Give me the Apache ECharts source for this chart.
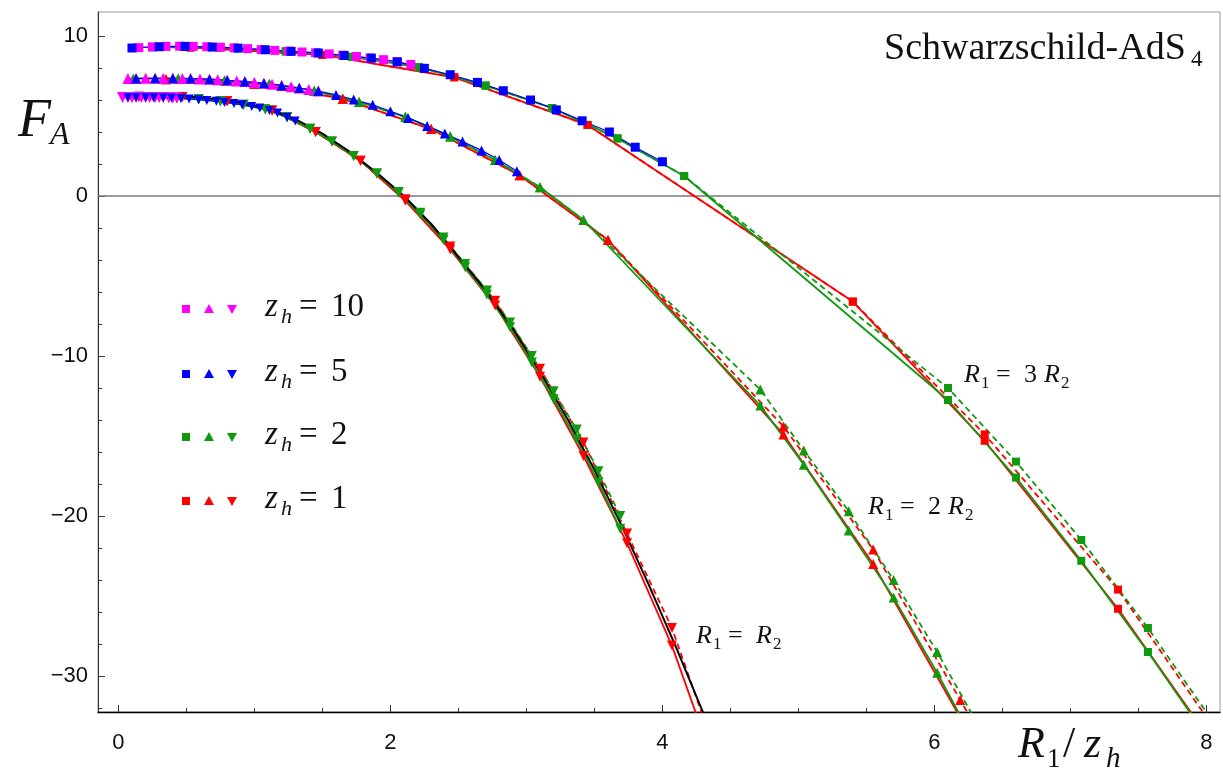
<!DOCTYPE html>
<html>
<head>
<meta charset="utf-8">
<title>F_A  Schwarzschild-AdS4</title>
<script src="https://cdn.jsdelivr.net/npm/echarts@6/dist/echarts.min.js"></script>
<style>
  html, body { margin: 0; padding: 0; background: #fff; }
  #main { width: 1223px; height: 768px; }
</style>
</head>
<body>
<div id="main"></div>
<script type="text/javascript">
// axis ticks
var xTicks = [0, 2, 4, 6, 8];
var xMinor = [0.5, 1, 1.5, 2.5, 3, 3.5, 4.5, 5, 5.5, 6.5, 7, 7.5];
var yTicks = [-30, -20, -10, 0, 10];
var yMinor = [-32, -28, -26, -24, -22, -18, -16, -14, -12, -8, -6, -4, -2, 2, 4, 6, 8];

// ---- R1 = R2 (down triangles) ----
var r1MagX = [0.03, 0.07, 0.10, 0.13, 0.17, 0.20, 0.23, 0.27, 0.30, 0.33, 0.37, 0.40, 0.43];
var r1MagY = [6.15, 6.15, 6.16, 6.16, 6.16, 6.16, 6.16, 6.16, 6.15, 6.15, 6.14, 6.13, 6.12];
var r1BlueX = [0.07, 0.13, 0.20, 0.26, 0.33, 0.39, 0.46, 0.52, 0.59, 0.65, 0.72, 0.78, 0.85, 0.91, 0.98, 1.04, 1.11, 1.17, 1.24, 1.30];
var r1BlueY = [6.15, 6.15, 6.15, 6.15, 6.14, 6.13, 6.10, 6.07, 6.02, 5.97, 5.92, 5.85, 5.78, 5.70, 5.60, 5.50, 5.35, 5.18, 4.92, 4.68];
var r1GreenX = [0.10, 0.26, 0.43, 0.59, 0.75, 0.92, 1.08, 1.24, 1.41, 1.57, 1.73, 1.90, 2.06, 2.22, 2.39, 2.55, 2.71, 2.88, 3.04, 3.20, 3.37, 3.53, 3.69];
var r1GreenSolid = [6.15, 6.15, 6.12, 6.05, 5.92, 5.70, 5.42, 4.92, 4.20, 3.40, 2.50, 1.40, 0.20, -1.15, -2.75, -4.45, -6.15, -8.20, -10.4, -12.7, -15.2, -17.9, -20.8];
var r1GreenDashed = [6.15, 6.15, 6.12, 6.05, 5.92, 5.70, 5.42, 4.92, 4.20, 3.40, 2.50, 1.40, 0.25, -1.05, -2.60, -4.25, -5.90, -7.90, -10.0, -12.2, -14.6, -17.2, -20.0];
var r1RedX = [0.15, 0.47, 0.80, 1.13, 1.45, 1.78, 2.11, 2.44, 2.77, 3.10, 3.42, 3.74, 4.07, 4.40];
var r1RedSolid = [6.20, 6.18, 5.92, 5.35, 4.00, 2.20, -0.30, -3.35, -6.85, -11.3, -16.25, -21.7, -28.1, -36.0];
var r1RedDashed = [6.20, 6.18, 5.92, 5.35, 4.00, 2.20, -0.20, -3.15, -6.55, -10.8, -15.4, -21.1, -27.0, -35.0];
var r1BlackX = [0.1, 0.3, 0.5, 0.7, 0.9, 1.1, 1.3, 1.5, 1.7, 1.9, 2.1, 2.3, 2.5, 2.7, 2.9, 3.1, 3.3, 3.5, 3.7, 3.9, 4.1, 4.3];
var r1BlackY = [6.30, 6.30, 6.23, 6.08, 5.85, 5.50, 4.80, 3.90, 2.77, 1.45, 0.0, -1.75, -3.80, -5.90, -8.30, -11.0, -13.9, -17.1, -20.6, -24.3, -28.2, -32.3];

// ---- R1 = 2 R2 (up triangles) ----
var r2MagX = [0.07, 0.13, 0.20, 0.27, 0.33, 0.40, 0.47, 0.53, 0.60, 0.67, 0.73, 0.80, 0.87, 0.93, 1.00, 1.07, 1.13, 1.20, 1.27, 1.33, 1.40, 1.47];
var r2MagY = [7.35, 7.35, 7.36, 7.36, 7.36, 7.36, 7.35, 7.34, 7.32, 7.30, 7.27, 7.23, 7.19, 7.15, 7.10, 7.04, 6.98, 6.91, 6.83, 6.75, 6.66, 6.56];
var r2BlueX = [0.13, 0.27, 0.40, 0.53, 0.67, 0.80, 0.93, 1.07, 1.20, 1.33, 1.47, 1.60, 1.73, 1.87, 2.00, 2.13, 2.27, 2.40, 2.53, 2.67, 2.80, 2.93];
var r2BlueY = [7.35, 7.36, 7.36, 7.34, 7.30, 7.23, 7.15, 7.04, 6.91, 6.75, 6.56, 6.32, 6.03, 5.70, 5.30, 4.88, 4.38, 3.90, 3.40, 2.85, 2.25, 1.55];
var r2GreenX = [0.11, 0.44, 0.78, 1.11, 1.44, 1.77, 2.11, 2.44, 2.77, 3.10, 3.42, 4.72, 5.04, 5.37, 5.70, 6.02, 6.35];
var r2GreenSolid = [7.33, 7.34, 7.22, 7.00, 6.58, 5.88, 4.95, 3.72, 2.25, 0.55, -1.5, -13.1, -16.8, -20.9, -25.1, -29.8, -35.0];
var r2GreenDashed = [7.33, 7.34, 7.22, 7.00, 6.58, 5.88, 4.95, 3.72, 2.25, 0.55, -1.5, -12.1, -15.9, -19.7, -24.0, -28.5, -33.5];
var r2RedX = [0.35, 1.00, 1.65, 2.30, 2.95, 3.60, 4.89, 5.55, 6.19, 6.84];
var r2RedSolid = [7.30, 7.02, 6.08, 4.18, 1.30, -2.75, -14.9, -23.0, -32.6, -43.0];
var r2RedDashed = [7.30, 7.02, 6.08, 4.18, 1.30, -2.75, -14.4, -22.1, -31.5, -41.0];

// ---- R1 = 3 R2 (squares) ----
var r3MagX = [0.15, 0.25, 0.35, 0.45, 0.55, 0.65, 0.75, 0.85, 0.95, 1.05, 1.15, 1.25, 1.35, 1.45, 1.55, 1.65, 1.75, 1.85, 1.95, 2.05, 2.15];
var r3MagY = [9.27, 9.32, 9.35, 9.36, 9.35, 9.33, 9.30, 9.26, 9.21, 9.15, 9.10, 9.05, 9.00, 8.95, 8.88, 8.80, 8.72, 8.62, 8.52, 8.40, 8.22];
var r3BlueX = [0.10, 0.30, 0.49, 0.69, 0.88, 1.08, 1.27, 1.47, 1.66, 1.86, 2.05, 2.25, 2.44, 2.64, 2.83, 3.03, 3.22, 3.41, 3.61, 3.80, 4.00];
var r3BlueY = [9.25, 9.33, 9.35, 9.31, 9.24, 9.14, 9.04, 8.94, 8.78, 8.62, 8.38, 7.98, 7.58, 7.10, 6.58, 6.00, 5.38, 4.70, 4.00, 3.05, 2.14];
var r3GreenX = [0.25, 0.74, 1.23, 1.72, 2.21, 2.70, 3.19, 3.67, 4.16, 6.10, 6.60, 7.08, 7.57, 8.06];
var r3GreenSolid = [9.30, 9.28, 9.04, 8.70, 8.05, 6.90, 5.50, 3.60, 1.25, -12.75, -17.6, -22.8, -28.5, -34.5];
var r3GreenDashed = [9.30, 9.28, 9.04, 8.70, 8.05, 6.90, 5.50, 3.60, 1.25, -12.0, -16.6, -21.5, -27.0, -33.0];
var r3RedX = [0.53, 1.50, 2.47, 3.45, 5.40, 6.37, 7.35, 8.32];
var r3RedSolid = [9.28, 8.82, 7.42, 4.44, -6.6, -15.3, -25.8, -37.5];
var r3RedDashed = [9.28, 8.82, 7.42, 4.44, -6.6, -14.9, -24.6, -36.5];

var MAG = '#ff00ff', BLUE = '#0000ff', GREEN = '#0f9a0f', RED = '#ff0000';
var XMIN = -0.15, XMAX = 8.1, YMIN = -32.25, YMAX = 11.5;

function pairs(xs, ys) {
    return xs.map(function (x, i) { return [x, ys[i]]; });
}

// one line series with markers
function ser(xs, ys, color, shape, dashed, size, width) {
    var rot = 0, sym = 'rect';
    if (shape === 'up') sym = 'triangle';
    if (shape === 'down') { sym = 'triangle'; rot = 180; }
    if (shape === 'none') sym = 'none';
    return {
        type: 'line',
        data: pairs(xs, ys),
        symbol: sym,
        symbolSize: size || (sym === 'rect' ? 8 : 10),
        symbolRotate: rot,
        showSymbol: sym !== 'none',
        itemStyle: { color: color },
        lineStyle: { color: color, width: width || 1.8, type: dashed ? [6, 4] : 'solid' },
        emphasis: { disabled: true },
        clip: true,
        animation: false
    };
}

var series = [
    // zero line
    {
        type: 'line', data: [[XMIN, 0], [XMAX, 0]], symbol: 'none',
        lineStyle: { color: '#7a7a7a', width: 1.4 }, animation: false, silent: true
    },
    ser(r3RedX, r3RedDashed, RED, 'sq', true),
    ser(r3RedX, r3RedSolid, RED, 'sq', false),
    ser(r2RedX, r2RedDashed, RED, 'up', true),
    ser(r2RedX, r2RedSolid, RED, 'up', false),
    ser(r1RedX, r1RedDashed, RED, 'down', true),
    ser(r1RedX, r1RedSolid, RED, 'down', false),
    ser(r3GreenX, r3GreenDashed, GREEN, 'sq', true),
    ser(r3GreenX, r3GreenSolid, GREEN, 'sq', false),
    ser(r2GreenX, r2GreenDashed, GREEN, 'up', true),
    ser(r2GreenX, r2GreenSolid, GREEN, 'up', false),
    ser(r1GreenX, r1GreenDashed, GREEN, 'down', true),
    ser(r1GreenX, r1GreenSolid, GREEN, 'down', false),
    ser(r3MagX, r3MagY, MAG, 'sq', false, 9, 1.2),
    ser(r2MagX, r2MagY, MAG, 'up', false, 11, 1.2),
    ser(r1MagX, r1MagY, MAG, 'down', false, 11, 1.2),
    ser(r3BlueX, r3BlueY, BLUE, 'sq', false, 9, 1.2),
    ser(r2BlueX, r2BlueY, BLUE, 'up', false, 10, 1.2),
    ser(r1BlueX, r1BlueY, BLUE, 'down', false, 9, 1.2),
    ser(r1BlackX, r1BlackY, '#000', 'none', false, 0, 2)
];

// text helper, base is roughly the glyph baseline
function txt(x, base, s, size, italic, family) {
    return {
        type: 'text', x: x, y: base - 0.33 * size, silent: true,
        style: {
            text: s, fontSize: size, fontStyle: italic ? 'italic' : 'normal',
            fontFamily: family || 'Liberation Serif', fill: '#111',
            verticalAlign: 'middle', textAlign: 'left'
        }
    };
}

var graphics = [];
// F_A
graphics.push(txt(18, 140, 'F', 54, true));
graphics.push(txt(50, 146, 'A', 32, true));
// R1/zh
graphics.push(txt(1018, 760, 'R', 44, true));
graphics.push(txt(1047, 769, '1', 27, false));
graphics.push(txt(1063, 760, '/', 44, false));
graphics.push(txt(1084, 760, 'z', 44, true));
graphics.push(txt(1106, 769, 'h', 29, true));
// Schwarzschild-AdS4
graphics.push(txt(884, 62, 'Schwarzschild-AdS', 38, false));
graphics.push(txt(1191, 68, '4', 23, false));

// R1 = n R2 labels
function rlabel(x, base, n) {
    var out = [];
    out.push(txt(x, base, 'R', 26, true));
    out.push(txt(x + 17, base + 5, '1', 17, false));
    out.push(txt(x + 32, base, '=', 26, false));
    var x2 = x + 60;
    if (n) { out.push(txt(x2, base, n, 26, false)); x2 += 20; }
    out.push(txt(x2, base, 'R', 26, true));
    out.push(txt(x2 + 17, base + 5, '2', 17, false));
    return out;
}
graphics = graphics.concat(rlabel(696, 645, ''), rlabel(868, 516, '2'), rlabel(964, 384, '3'));

// legend rows
var legendNames = ['10', '5', '2', '1'];
var legendColors = [MAG, BLUE, GREEN, RED];
var legendRows = [309, 374, 437, 501];
legendRows.forEach(function (cy, i) {
    var c = legendColors[i];
    graphics.push({ type: 'rect', silent: true, shape: { x: 182, y: cy - 4, width: 8, height: 8 }, style: { fill: c } });
    graphics.push({ type: 'polygon', silent: true, shape: { points: [[204, cy + 4], [214, cy + 4], [209, cy - 5]] }, style: { fill: c } });
    graphics.push({ type: 'polygon', silent: true, shape: { points: [[227, cy - 4], [237, cy - 4], [232, cy + 5]] }, style: { fill: c } });
    graphics.push(txt(265, cy + 9, 'z', 33, true));
    graphics.push(txt(281, cy + 15, 'h', 22, true));
    graphics.push(txt(299, cy + 9, '=', 33, false));
    graphics.push(txt(331, cy + 9, legendNames[i], 33, false));
});

var myChart = echarts.init(document.getElementById('main'));
myChart.setOption({
    backgroundColor: '#fff',
    animation: false,
    grid: { left: 98, right: 3, top: 12, bottom: 56, show: true, borderColor: '#9a9a9a', borderWidth: 1 },
    xAxis: [{
        type: 'value', min: XMIN, max: XMAX,
        axisLine: { show: true, onZero: false, lineStyle: { color: '#000', width: 1.3 } },
        axisTick: { show: true, inside: true, length: 7, customValues: xTicks, lineStyle: { color: '#333' } },
        axisLabel: { customValues: xTicks, fontSize: 22, color: '#111', margin: 20, fontFamily: 'Liberation Sans' },
        splitLine: { show: false }
    }, {
        type: 'value', min: XMIN, max: XMAX, position: 'bottom',
        axisLine: { show: false, onZero: false },
        axisTick: { show: true, inside: true, length: 4, customValues: xMinor, lineStyle: { color: '#333' } },
        axisLabel: { show: false },
        splitLine: { show: false }
    }],
    yAxis: [{
        type: 'value', min: YMIN, max: YMAX,
        axisLine: { show: true, onZero: false, lineStyle: { color: '#333', width: 1 } },
        axisTick: { show: true, inside: true, length: 7, customValues: yTicks, lineStyle: { color: '#333' } },
        axisLabel: {
            customValues: yTicks, fontSize: 22, color: '#111', margin: 10, fontFamily: 'Liberation Sans',
            formatter: function (v) { return String(v).replace('-', '\u2212'); }
        },
        splitLine: { show: false }
    }, {
        type: 'value', min: YMIN, max: YMAX, position: 'left',
        axisLine: { show: false, onZero: false },
        axisTick: { show: true, inside: true, length: 4, customValues: yMinor, lineStyle: { color: '#333' } },
        axisLabel: { show: false },
        splitLine: { show: false }
    }],
    series: series,
    graphic: graphics
});
</script>
</body>
</html>
